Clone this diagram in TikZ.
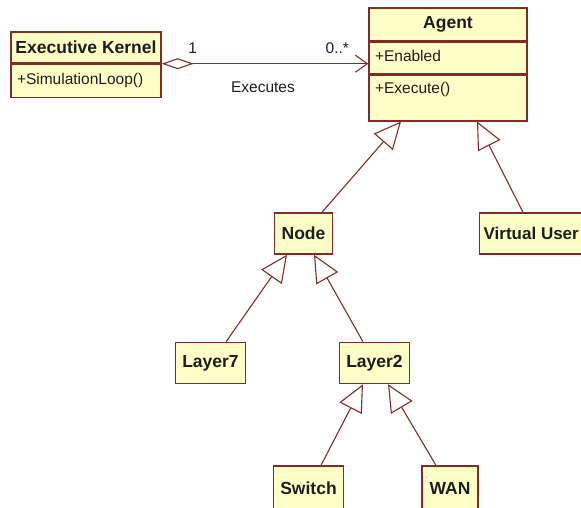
\documentclass[tikz,border=0pt]{standalone}
\usepackage{fontspec}
\setmainfont{Liberation Sans}
\usetikzlibrary{arrows.meta,positioning}

\definecolor{umlborder}{RGB}{128,44,38}
\definecolor{umlfill}{RGB}{255,255,200}
\definecolor{umltext}{RGB}{28,30,28}

\tikzset{
  classhead/.style={draw=umlborder, fill=umlfill, line width=1.4pt, text=umltext,
    font=\fontsize{17.5}{20}\selectfont\bfseries, inner sep=0pt},
  classpart/.style={draw=umlborder, fill=umlfill, line width=1.4pt, text=umltext,
    font=\fontsize{15.5}{18}\selectfont, align=left, inner xsep=6pt, inner ysep=8pt,
    text height=11pt, text depth=4pt},
  classbox/.style={classhead, minimum height=41pt, inner xsep=7pt},
  inherits/.style={draw=umlborder, line width=1.1pt,
    -{Triangle[open, length=27pt, width=25pt, line join=miter]}},
  assoc/.style={draw=umlborder, line width=1.1pt,
    {Diamond[open, length=32pt, width=11pt]}-{Straight Barb[length=12pt, width=17pt]}},
  rolelabel/.style={text=umltext, font=\fontsize{15.5}{18}\selectfont, inner sep=0pt}
}

\begin{document}
\begin{tikzpicture}[x=1pt, y=-1pt]
    \useasboundingbox[fill=white] (0,0) rectangle (581,507);

    % executive kernel
    \node[classhead, minimum width=150pt, minimum height=31pt] (kernel) at (86,47.5) {Executive Kernel};
    \node[classpart, text width=138pt, minimum height=33pt, below=0pt of kernel] (kernelops) {+SimulationLoop()};

    % agent
    \node[classhead, minimum width=158pt, minimum height=33pt] (agent) at (448,24.5) {Agent};
    \node[classpart, text width=146pt, below=0pt of agent] (agentattr) {+Enabled};
    \node[classpart, text width=146pt, text depth=19pt, below=0pt of agentattr] (agentops) {+Execute()};

    % subclasses
    \node[classbox, minimum width=57pt] (node) at (303.5,233.5) {Node};
    \node[classbox, anchor=west, inner xsep=4pt, font=\fontsize{17}{20}\selectfont\bfseries] (vuser) at (479,233.5) {Virtual User};
    \node[classbox, minimum width=69pt] (layer7) at (210.5,363) {Layer7};
    \node[classbox, minimum width=69pt] (layer2) at (374.5,363) {Layer2};
    \node[classbox, minimum width=67pt, minimum height=45pt] (switch) at (308.5,488.5) {Switch};
    \node[classbox, minimum width=56pt, minimum height=45pt] (wan) at (450,488.5) {WAN};

    \draw[assoc] (kernel.south east) -- node[rolelabel, pos=0.15, above=10pt] {1}
        node[rolelabel, pos=0.85, above=10pt] {0..*}
        node[rolelabel, pos=0.49, below=18pt] {Executes} (kernel.south east -| agentattr.west);

    \draw[inherits] ([xshift=18.5pt]node.north) -- ([xshift=-47pt]agentops.south);
    \draw[inherits] ([xshift=44pt]vuser.north west) -- ([xshift=29pt]agentops.south);
    \draw[inherits] ([xshift=15.5pt]layer7.north) -- ([xshift=-16.5pt]node.south);
    \draw[inherits] ([xshift=-11.5pt]layer2.north) -- ([xshift=10.5pt]node.south);
    \draw[inherits] ([xshift=12.5pt]switch.north) -- ([xshift=-11.5pt]layer2.south);
    \draw[inherits] ([xshift=-14pt]wan.north) -- ([xshift=13.5pt]layer2.south);
\end{tikzpicture}
\end{document}
